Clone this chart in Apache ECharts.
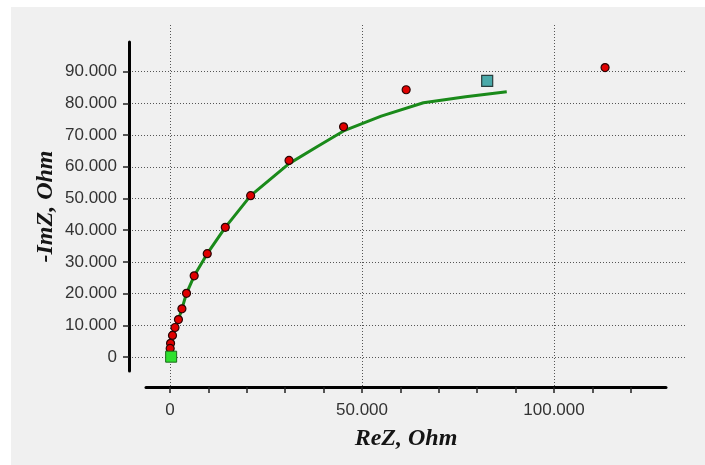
<!DOCTYPE html>
<html><head><meta charset="utf-8">
<script src="https://cdn.jsdelivr.net/npm/echarts@6/dist/echarts.min.js"></script>
<style>
html,body{margin:0;padding:0;background:#fff;}
#wrap{position:relative;width:705px;height:465px;overflow:hidden;}
#bg{position:absolute;left:11px;top:7px;right:0;bottom:0;background:#f0f0f0;}
#c{position:absolute;left:0;top:0;width:705px;height:465px;}
</style>
</head><body>
<div id="wrap"><div id="bg"></div><div id="c"></div></div>
<script>
// ---- data (Ohm) ----
const measuredRe = [113300, 61500, 45200, 31000, 21000, 14400, 9700, 6300, 4300, 3100, 2200, 1300, 650, 150, 50];
const measuredIm = [91300, 84300, 72600, 62000, 50900, 40900, 32600, 25600, 20100, 15200, 11800, 9300, 6800, 4300, 2700];
const fitRe = [300, 100, 300, 650, 1300, 2200, 3100, 4300, 6300, 9700, 14400, 21000, 31000, 38500, 45200, 55000, 66000, 77000, 87700];
const fitIm = [100, 2700, 4400, 6800, 9300, 11800, 15200, 20100, 25600, 32600, 40900, 50900, 61000, 66500, 71300, 76000, 80200, 82100, 83700];
const startRe = [300];
const startIm = [100];
const markRe = [82600];
const markIm = [87100];
const xTickValues = [0, 10000, 20000, 30000, 40000, 50000, 60000, 70000, 80000, 90000, 100000, 110000, 120000];
const xLabelValues = [0, 50000, 100000];
const yTickValues = [0, 10000, 20000, 30000, 40000, 50000, 60000, 70000, 80000, 90000];

// ---- layout helpers ----
const W = 705, H = 465;
const X0 = 170, XK = 3.84 / 1000;   // pixel of ReZ=0, pixels per Ohm
const Y0 = 357, YK = 3.17 / 1000;   // pixel of -ImZ=0, pixels per Ohm
const xv = px => (px - X0) / XK;
const yv = py => (Y0 - py) / YK;
const xp = v => X0 + v * XK;
const yp = v => Y0 - v * YK;
const box = (l, r, t, b) => ({left: l, right: W - r, top: t, bottom: H - b, containLabel: false});
const fmt = v => String(v).replace(/\B(?=(\d{3})+(?!\d))/g, '.');

const zip = (a, b) => a.map((v, i) => [v, b[i]]);
const hidden = {show: false};
const dotted = {show: true, lineStyle: {color: '#555', width: 1, type: [1, 2]}};
const labelFont = {fontFamily: 'Liberation Sans, Arial, sans-serif', fontSize: 17, color: '#333'};
const nameFont = {fontFamily: 'Liberation Serif, Times New Roman, serif', fontSize: 24, fontWeight: 'bold', fontStyle: 'italic', color: '#151515'};

const xMaxTick = xTickValues[xTickValues.length - 1];
const yMaxTick = yTickValues[yTickValues.length - 1];

const option = {
  animation: false,
  grid: [
    box(129, 687, 25, 387),                 // 0 data
    box(xp(0), xp(xLabelValues[xLabelValues.length-1]), 25, 387), // 1 vertical grid lines
    box(129, 687, yp(yMaxTick), yp(0)),      // 2 horizontal grid lines + y ticks/labels
    box(129, 300, 42, 371),                 // 3 y axis line + name
    box(xp(0), xp(xMaxTick), 300, 387),      // 4 x ticks + labels
    box(146, 666, 300, 387)                 // 5 x axis line + name
  ],
  xAxis: [
    {gridIndex: 0, type: 'value', min: xv(129), max: xv(687), show: false},
    {gridIndex: 1, type: 'value', min: 0, max: xLabelValues[xLabelValues.length-1], interval: 50000,
     axisLine: hidden, axisTick: hidden, axisLabel: hidden, splitLine: dotted},
    {gridIndex: 2, type: 'value', show: false},
    {gridIndex: 3, type: 'value', show: false},
    {gridIndex: 4, type: 'value', min: 0, max: xMaxTick, interval: 10000, position: 'bottom',
     axisLine: hidden, splitLine: hidden,
     axisTick: {show: true, length: 6, lineStyle: {color: '#222', width: 1.5}},
     axisLabel: Object.assign({margin: 15, formatter: v => xLabelValues.includes(v) ? fmt(v) : ''}, labelFont)},
    {gridIndex: 5, type: 'value', min: 0, max: 1, position: 'bottom',
     axisLine: {show: true, lineStyle: {color: '#000', width: 3}},
     axisTick: hidden, axisLabel: hidden, splitLine: hidden,
     name: 'ReZ, Ohm', nameLocation: 'middle', nameGap: 40, nameTextStyle: nameFont}
  ],
  yAxis: [
    {gridIndex: 0, type: 'value', min: yv(387), max: yv(25), show: false},
    {gridIndex: 1, type: 'value', show: false},
    {gridIndex: 2, type: 'value', min: 0, max: yMaxTick, interval: 10000, position: 'left',
     axisLine: hidden, splitLine: dotted,
     axisTick: {show: true, length: 6, lineStyle: {color: '#222', width: 1.5}},
     axisLabel: Object.assign({margin: 12, formatter: v => yTickValues.includes(v) ? fmt(v) : ''}, labelFont)},
    {gridIndex: 3, type: 'value', min: 0, max: 1, position: 'left',
     axisLine: {show: true, lineStyle: {color: '#000', width: 3}},
     axisTick: hidden, axisLabel: hidden, splitLine: hidden,
     name: '-ImZ, Ohm', nameLocation: 'middle', nameGap: 71, nameRotate: 90, nameTextStyle: nameFont},
    {gridIndex: 4, type: 'value', show: false},
    {gridIndex: 5, type: 'value', show: false}
  ],
  series: [
    {type: 'line', xAxisIndex: 0, yAxisIndex: 0, data: zip(fitRe, fitIm), showSymbol: false, symbol: 'none',
     lineStyle: {color: '#1a8a1a', width: 3}, z: 2, silent: true},
    {type: 'scatter', xAxisIndex: 0, yAxisIndex: 0, data: zip(measuredRe, measuredIm), symbol: 'circle', symbolSize: 8,
     itemStyle: {color: '#e00000', borderColor: '#2a0505', borderWidth: 1.2, opacity: 1}, z: 3},
    {type: 'scatter', xAxisIndex: 0, yAxisIndex: 0, data: zip(startRe, startIm), symbol: 'rect', symbolSize: 11,
     itemStyle: {color: '#2fe02f', borderColor: '#1a6a1a', borderWidth: 1, opacity: 1}, z: 4},
    {type: 'scatter', xAxisIndex: 0, yAxisIndex: 0, data: zip(markRe, markIm), symbol: 'rect', symbolSize: 11,
     itemStyle: {color: '#4aa9a9', borderColor: '#2a3d3d', borderWidth: 1.2, opacity: 1}, z: 4}
  ]
};
const chart = echarts.init(document.getElementById('c'), null, {renderer: 'canvas'});
chart.setOption(option);
</script>
</body></html>
